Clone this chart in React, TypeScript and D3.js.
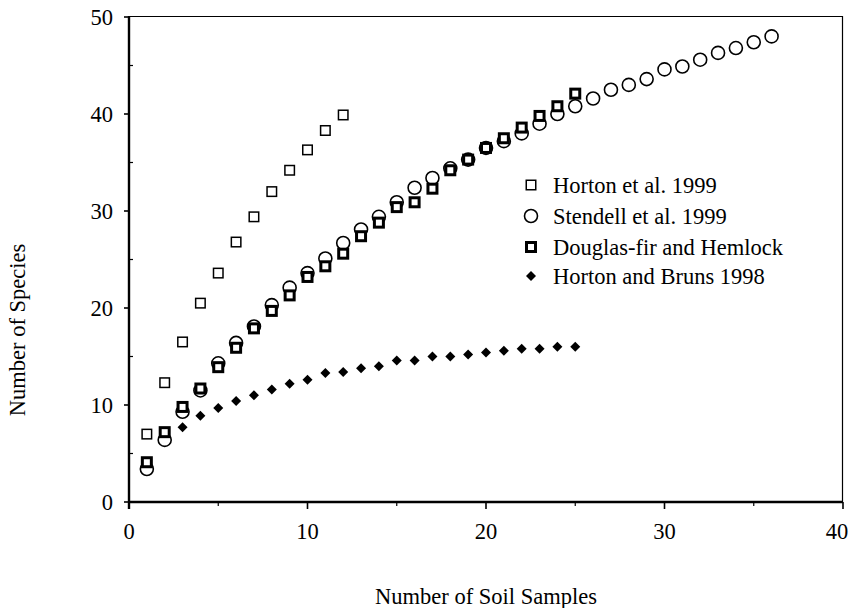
import React from "react";
import * as d3 from "d3";

const xTicks = [0, 10, 20, 30, 40];
const yTicks = [0, 10, 20, 30, 40, 50];
const xMinor = [5, 15, 25, 35];
const yMinor = [5, 15, 25, 35, 45];

const hortonX = [1, 2, 3, 4, 5, 6, 7, 8, 9, 10, 11, 12];
const hortonY = [7.0, 12.3, 16.5, 20.5, 23.6, 26.8, 29.4, 32.0, 34.2, 36.3, 38.3, 39.9];

const stendellX = [1, 2, 3, 4, 5, 6, 7, 8, 9, 10, 11, 12, 13, 14, 15, 16, 17, 18, 19, 20, 21, 22, 23, 24, 25, 26, 27, 28, 29, 30, 31, 32, 33, 34, 35, 36];
const stendellY = [3.4, 6.4, 9.3, 11.5, 14.3, 16.4, 18.1, 20.3, 22.1, 23.6, 25.1, 26.7, 28.1, 29.4, 30.9, 32.4, 33.4, 34.4, 35.3, 36.5, 37.2, 38.0, 39.0, 40.0, 40.8, 41.6, 42.5, 43.0, 43.6, 44.6, 44.9, 45.6, 46.3, 46.8, 47.4, 48.0];

const dfX = [1, 2, 3, 4, 5, 6, 7, 8, 9, 10, 11, 12, 13, 14, 15, 16, 17, 18, 19, 20, 21, 22, 23, 24, 25];
const dfY = [4.1, 7.2, 9.8, 11.7, 13.9, 15.9, 17.9, 19.7, 21.3, 23.2, 24.3, 25.6, 27.4, 28.8, 30.4, 30.9, 32.3, 34.2, 35.3, 36.5, 37.5, 38.6, 39.8, 40.8, 42.1];

const hbX = [1, 2, 3, 4, 5, 6, 7, 8, 9, 10, 11, 12, 13, 14, 15, 16, 17, 18, 19, 20, 21, 22, 23, 24, 25];
const hbY = [4.0, 6.4, 7.7, 8.9, 9.7, 10.4, 11.0, 11.6, 12.2, 12.6, 13.3, 13.4, 13.8, 14.0, 14.6, 14.6, 15.0, 15.0, 15.2, 15.4, 15.6, 15.8, 15.8, 16.0, 16.0];

const legendLabels = ["Horton et al. 1999", "Stendell et al. 1999", "Douglas-fir and Hemlock", "Horton and Bruns 1998"];

const FONT = "'Liberation Serif', 'Times New Roman', serif";
const FS = 22.5;

function Square({ cx, cy, s, sw }: { cx: number; cy: number; s: number; sw: number }) {
  return <rect x={cx - s / 2} y={cy - s / 2} width={s} height={s} fill="white" stroke="black" strokeWidth={sw} />;
}
function Circle({ cx, cy }: { cx: number; cy: number }) {
  return <circle cx={cx} cy={cy} r={6.5} fill="white" stroke="black" strokeWidth={1.6} />;
}
function Diamond({ cx, cy }: { cx: number; cy: number }) {
  const r = 5;
  return <path d={`M${cx},${cy - r}L${cx + r},${cy}L${cx},${cy + r}L${cx - r},${cy}Z`} fill="black" />;
}

export default function App() {
  const W = 851, H = 608;
  const x = d3.scaleLinear().domain([0, 40]).range([129, 843]);
  const y = d3.scaleLinear().domain([0, 50]).range([502, 17]);
  const legX = 531;
  const legY = [185, 216, 247, 276];

  return (
    <svg width={W} height={H} style={{ position: "absolute", left: 0, top: 0, background: "white" }} fontFamily={FONT}>
      {/* frame */}
      <line x1={129} x2={843} y1={16.5} y2={16.5} stroke="black" strokeWidth={1.2} />
      <line x1={842.5} x2={842.5} y1={16} y2={502} stroke="black" strokeWidth={1.2} />
      <line x1={129} x2={129} y1={16} y2={509} stroke="black" strokeWidth={2.4} />
      <line x1={128} x2={843} y1={502} y2={502} stroke="black" strokeWidth={2.4} />
      {/* x ticks */}
      {xTicks.map((t) => (
        <g key={"xt" + t}>
          {t > 0 && <line x1={x(t)} x2={x(t)} y1={502} y2={509} stroke="black" strokeWidth={1.6} />}
          <text x={Math.min(x(t), 837)} y={539} textAnchor="middle" fontSize={FS}>{t}</text>
        </g>
      ))}
      {xMinor.map((t) => (
        <line key={"xm" + t} x1={x(t)} x2={x(t)} y1={502} y2={506} stroke="black" strokeWidth={1.2} />
      ))}
      {/* y ticks */}
      {yTicks.map((t) => (
        <g key={"yt" + t}>
          <line x1={124} x2={129} y1={y(t)} y2={y(t)} stroke="black" strokeWidth={1.6} />
          <text x={113} y={y(t) + 8} textAnchor="end" fontSize={FS}>{t}</text>
        </g>
      ))}
      {yMinor.map((t) => (
        <line key={"ym" + t} x1={129} x2={133} y1={y(t)} y2={y(t)} stroke="black" strokeWidth={1.2} />
      ))}
      {/* series */}
      {hbX.map((v, i) => <Diamond key={"hb" + i} cx={x(v)} cy={y(hbY[i])} />)}
      {stendellX.map((v, i) => <Circle key={"st" + i} cx={x(v)} cy={y(stendellY[i])} />)}
      {dfX.map((v, i) => <Square key={"df" + i} cx={x(v)} cy={y(dfY[i])} s={9} sw={3} />)}
      {hortonX.map((v, i) => <Square key={"ho" + i} cx={x(v)} cy={y(hortonY[i])} s={9.5} sw={1.5} />)}
      {/* legend */}
      <Square cx={legX} cy={legY[0]} s={9.5} sw={1.5} />
      <Circle cx={legX} cy={legY[1]} />
      <Square cx={legX} cy={legY[2]} s={9} sw={3} />
      <Diamond cx={legX} cy={legY[3]} />
      {legendLabels.map((l, i) => (
        <text key={l} x={553} y={legY[i] + 8} fontSize={FS}>{l}</text>
      ))}
      {/* axis titles */}
      <text x={486} y={604} textAnchor="middle" fontSize={FS}>Number of Soil Samples</text>
      <text transform="translate(25,330) rotate(-90)" textAnchor="middle" fontSize={FS}>Number of Species</text>
    </svg>
  );
}
